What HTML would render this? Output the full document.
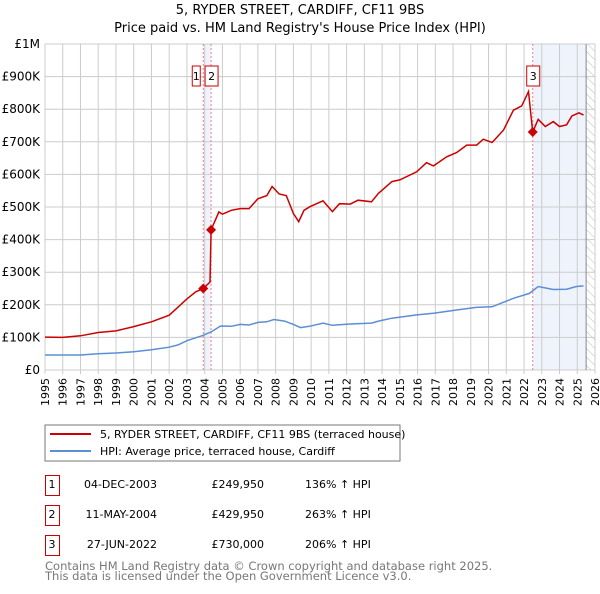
<!DOCTYPE html>
<html><head><meta charset="utf-8"><style>
body{margin:0;background:#fff;font-family:"DejaVu Sans","Liberation Sans",sans-serif;}
svg text{font-family:"DejaVu Sans","Liberation Sans",sans-serif;}
</style></head><body>
<svg id="c" width="600" height="590" xmlns="http://www.w3.org/2000/svg">
<defs><pattern id="hatch" width="6" height="6" patternUnits="userSpaceOnUse" patternTransform="rotate(-45)"><line x1="0" y1="0" x2="0" y2="6" stroke="#bbb" stroke-width="1"/></pattern></defs>
<text x="300" y="14" text-anchor="middle" font-size="13">5, RYDER STREET, CARDIFF, CF11 9BS</text>
<text x="300" y="32" text-anchor="middle" font-size="13">Price paid vs. HM Land Registry's House Price Index (HPI)</text>
<g id="g"></g>
<rect x="45" y="425" width="355" height="36" fill="#fff" stroke="#777"/>
<line x1="50" y1="434" x2="91" y2="434" stroke="#cc0000" stroke-width="2"/>
<text x="100" y="438" font-size="11">5, RYDER STREET, CARDIFF, CF11 9BS (terraced house)</text>
<line x1="50" y1="451" x2="91" y2="451" stroke="#5b8fd4" stroke-width="2"/>
<text x="100" y="455" font-size="11">HPI: Average price, terraced house, Cardiff</text>
<g font-size="11">
<rect x="45.5" y="475.5" width="14" height="20" fill="none" stroke="#cc0000"/><text x="52" y="488" text-anchor="middle">1</text>
<text x="157" y="488" text-anchor="end">04-DEC-2003</text><text x="264" y="488" text-anchor="end">£249,950</text><text x="305" y="488">136% ↑ HPI</text>
<rect x="45.5" y="505.5" width="14" height="20" fill="none" stroke="#cc0000"/><text x="52" y="518" text-anchor="middle">2</text>
<text x="157" y="518" text-anchor="end">11-MAY-2004</text><text x="264" y="518" text-anchor="end">£429,950</text><text x="305" y="518">263% ↑ HPI</text>
<rect x="45.5" y="535.5" width="14" height="20" fill="none" stroke="#cc0000"/><text x="52" y="548" text-anchor="middle">3</text>
<text x="157" y="548" text-anchor="end">27-JUN-2022</text><text x="264" y="548" text-anchor="end">£730,000</text><text x="305" y="548">206% ↑ HPI</text>
</g>
<text x="45" y="570" font-size="11.5" fill="#777">Contains HM Land Registry data © Crown copyright and database right 2025.</text>
<text x="45" y="580" font-size="11.5" fill="#777">This data is licensed under the Open Government Licence v3.0.</text>
</svg>
<script>
const redYears=[1995,1996,1997,1998,1999,2000,2001,2002,2002.5,2003,2003.5,2003.92,2004.3,2004.36,2004.8,2005,2005.5,2006,2006.5,2007,2007.5,2007.8,2008.2,2008.6,2009,2009.3,2009.6,2009.93,2010.67,2011.2,2011.6,2012.2,2012.65,2013.4,2013.8,2014.55,2015,2015.95,2016.5,2016.9,2017.64,2018.2,2018.77,2019.33,2019.7,2020.2,2020.84,2021.4,2021.87,2022.25,2022.49,2022.8,2023.2,2023.65,2024,2024.4,2024.7,2025.1,2025.35];
const redVals=[101,100,105,115,120,133,148,168,193,218,240,250,270,430,485,478,490,495,495,525,535,563,540,535,480,455,490,501,519,486,510,509,521,516,542,578,583,608,636,626,654,667,690,690,708,698,736,797,810,854,730,769,747,762,747,752,779,789,782];
const hpiYears=[1995,1996,1997,1998,1999,2000,2001,2002,2002.5,2003,2003.9,2004.4,2004.9,2005.5,2006,2006.5,2007,2007.5,2007.9,2008.5,2009,2009.4,2009.9,2010.67,2011.2,2012.2,2013.4,2013.8,2014.55,2015.95,2016.9,2018.2,2019.3,2020.2,2021.4,2022.3,2022.8,2023.65,2024.4,2024.95,2025.35];
const hpiVals=[46,46,46,50,52,56,62,70,77,90,106,118,135,134,140,138,146,148,155,150,140,130,134,144,137,141,144,150,159,169,174,184,192,194,220,235,256,247,248,256,258];
const saleYears=[2003.92,2004.36,2022.49];
const saleVals=[249.95,429.95,730];
const saleLabels=["1","2","3"];
const yTicks=[0,100,200,300,400,500,600,700,800,900,1000];
const yTickLabels=["£0","£100K","£200K","£300K","£400K","£500K","£600K","£700K","£800K","£900K","£1M"];
const xTicks=[1995,1996,1997,1998,1999,2000,2001,2002,2003,2004,2005,2006,2007,2008,2009,2010,2011,2012,2013,2014,2015,2016,2017,2018,2019,2020,2021,2022,2023,2024,2025,2026];
const dataEnd=2025.5;
const X0=45,X1=595,Y0=370,Y1=44;
const xs=y=>X0+(y-1995)*(X1-X0)/31;
const ys=v=>Y0-v*(Y0-Y1)/1000;
const NS="http://www.w3.org/2000/svg";
const g=document.getElementById('g');
function mk(t,a){const e=document.createElementNS(NS,t);for(const k in a)e.setAttribute(k,a[k]);g.appendChild(e);return e;}
let e;
e=mk('rect',{x:xs(saleYears[0]),y:Y1,width:xs(saleYears[1])-xs(saleYears[0]),height:Y0-Y1,fill:'#eef3fc'});


e=mk('rect',{x:xs(saleYears[2]),y:Y1,width:xs(dataEnd)-xs(saleYears[2]),height:Y0-Y1,fill:'#eef3fc'});


e=mk('rect',{x:xs(dataEnd),y:Y1,width:X1-xs(dataEnd),height:Y0-Y1,fill:'url(#hatch)'});


yTicks.forEach((v,i)=>{
 e=mk('line',{x1:X0,x2:X1,y1:ys(v),y2:ys(v),stroke:'#ccc'});
 
 
 e=mk('text',{x:40,y:ys(v)+4,'text-anchor':'end','font-size':12});e.textContent=yTickLabels[i];
 
 
});
xTicks.forEach(y=>{
 e=mk('line',{x1:xs(y),x2:xs(y),y1:Y1,y2:Y0+4,stroke:'#ccc'});
 
 
 const tx=xs(y)+4,ty=Y0+8;
 e=mk('text',{x:tx,y:ty,'text-anchor':'end','font-size':11,transform:`rotate(-90 ${tx} ${ty})`});e.textContent=y;
 
 
});
e=mk('line',{x1:xs(dataEnd),x2:xs(dataEnd),y1:Y1,y2:Y0,stroke:'#888'});


saleYears.forEach((y,i)=>{
 e=mk('line',{x1:xs(y),x2:xs(y),y1:Y1,y2:Y0,stroke:'#f08080','stroke-dasharray':'2,2'});
 
 
});
const pts=(a,b)=>a.map((y,i)=>xs(y).toFixed(1)+','+ys(b[i]).toFixed(1)).join(' ');
e=mk('polyline',{points:pts(hpiYears,hpiVals),fill:'none',stroke:'#5b8fd4','stroke-width':1.5});


e=mk('polyline',{points:pts(redYears,redVals),fill:'none',stroke:'#cc0000','stroke-width':1.5});


saleYears.forEach((y,i)=>{
 const cx=xs(y),cy=ys(saleVals[i]);
 e=mk('polygon',{points:`${cx},${cy-5} ${cx+5},${cy} ${cx},${cy+5} ${cx-5},${cy}`,fill:'#cc0000'});
 
 
 const bx=i==0?cx-11:cx-6;
 e=mk('rect',{x:bx,y:66,width:i==0?8:13,height:20,fill:'#fff',stroke:'#cc0000'});
 
 
 e=mk('text',{x:bx+(i==0?4:6.5),y:80,'text-anchor':'middle','font-size':11});e.textContent=saleLabels[i];
 
 
});
</script>
</body></html>
